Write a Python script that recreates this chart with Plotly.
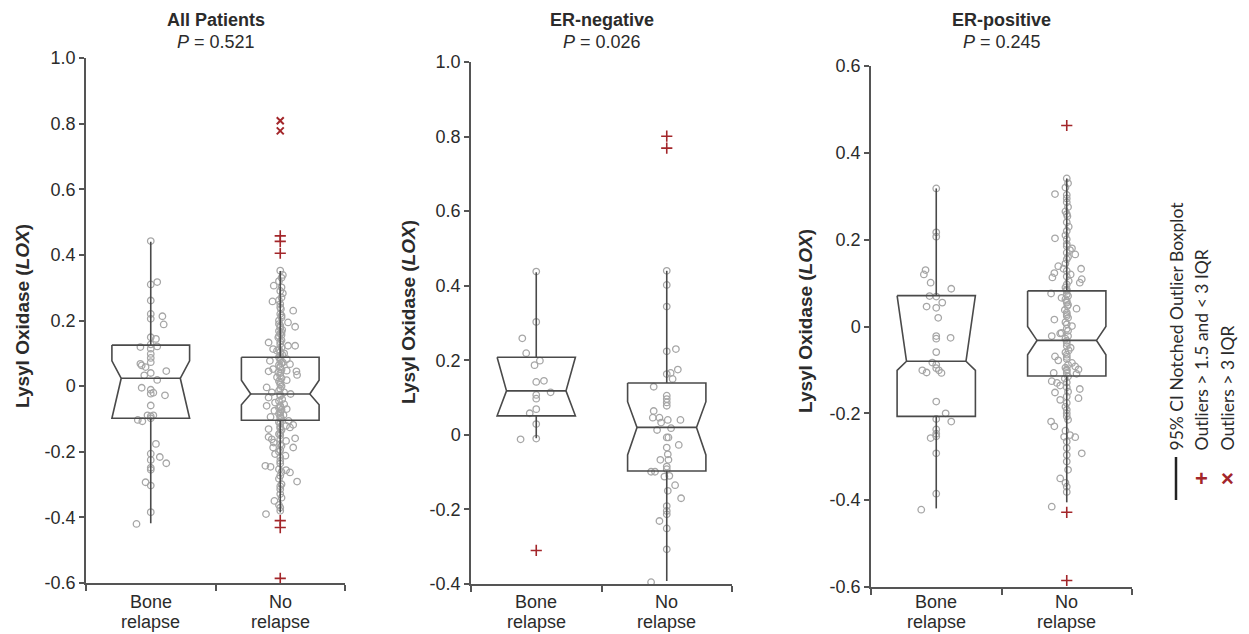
import plotly.graph_objects as go

# target picture size and the page's default body margin (the figure div is offset by it)
W, H = 1249, 634
OFF = 8
FW, FH = W - OFF, H - OFF

# ---------------- data ----------------
categories = ["Bone relapse", "No relapse"]
panel_titles = ["All Patients", "ER-negative", "ER-positive"]
p_values = ["0.521", "0.026", "0.245"]

yticks_p1 = [-0.6, -0.4, -0.2, 0, 0.2, 0.4, 0.6, 0.8, 1.0]
ytext_p1 = ["-0.6", "-0.4", "-0.2", "0", "0.2", "0.4", "0.6", "0.8", "1.0"]
yticks_p2 = [-0.4, -0.2, 0, 0.2, 0.4, 0.6, 0.8, 1.0]
ytext_p2 = ["-0.4", "-0.2", "0", "0.2", "0.4", "0.6", "0.8", "1.0"]
yticks_p3 = [-0.6, -0.4, -0.2, 0, 0.2, 0.4, 0.6]
ytext_p3 = ["-0.6", "-0.4", "-0.2", "0", "0.2", "0.4", "0.6"]
yrange_p1 = [-0.6, 1.0]
yrange_p2 = [-0.4, 1.0]
yrange_p3 = [-0.6, 0.6]

# box statistics per panel: [bone relapse, no relapse]
q1_p1, med_p1, q3_p1 = [-0.098, -0.104], [0.024, -0.024], [0.125, 0.088]
nlo_p1, nhi_p1 = [-0.098, -0.057], [0.077, 0.018]
wlo_p1, whi_p1 = [-0.418, -0.385], [0.440, 0.351]

q1_p2, med_p2, q3_p2 = [0.051, -0.097], [0.118, 0.020], [0.208, 0.139]
nlo_p2, nhi_p2 = [0.051, -0.054], [0.208, 0.089]
wlo_p2, whi_p2 = [-0.009, -0.392], [0.436, 0.440]

q1_p3, med_p3, q3_p3 = [-0.207, -0.114], [-0.080, -0.032], [0.071, 0.082]
nlo_p3, nhi_p3 = [-0.101, -0.065], [0.071, 0.000]
wlo_p3, whi_p3 = [-0.419, -0.405], [0.318, 0.341]

# outliers (group index, value)
mild_grp_p1 = [1, 1, 1, 1, 1, 1]
mild_val_p1 = [0.458, 0.441, 0.405, -0.410, -0.431, -0.586]
ext_grp_p1 = [1, 1]
ext_val_p1 = [0.809, 0.778]
mild_grp_p2 = [1, 1, 0]
mild_val_p2 = [0.801, 0.769, -0.310]
ext_grp_p2, ext_val_p2 = [], []
mild_grp_p3 = [1, 1, 1]
mild_val_p3 = [0.463, -0.428, -0.585]
ext_grp_p3, ext_val_p3 = [], []

# individual samples: values and horizontal jitter (category units)
bone_p1_y = [0.442, 0.310, 0.317, 0.261, 0.220, 0.213, 0.205, 0.188, 0.149, 0.144,
             0.127, 0.119, 0.121, 0.114, 0.098, 0.086, 0.073, 0.068, 0.063, 0.058,
             0.040, 0.046, 0.033, 0.019, -0.005, -0.011, -0.023, -0.020, -0.028, -0.059,
             -0.089, -0.092, -0.089, -0.098, -0.103, -0.107, -0.176, -0.206, -0.216, -0.225,
             -0.235, -0.249, -0.255, -0.293, -0.303, -0.384, -0.420]
bone_p1_dx = [0, 0, 0.05, 0, 0, 0.09, 0, 0.10, 0, 0.04,
              0, -0.08, 0.05, 0, 0, 0, 0, -0.08, -0.07, -0.04,
              0, 0.12, -0.05, 0.05, -0.07, 0, 0, 0.02, 0.11, 0,
              -0.025, 0, 0.02, 0, -0.10, -0.065, 0.04, 0, 0.07, 0,
              0.12, 0, 0, -0.04, 0, 0, -0.11]

no_p1_y = [0.352, 0.339, 0.306, 0.301, 0.283, 0.258, 0.250, 0.230, 0.235, 0.220,
           0.209, 0.194, 0.189, 0.181, 0.179, 0.164, 0.153, 0.133, 0.140, 0.128,
           0.123, 0.123, 0.113, 0.108, 0.100, 0.092, 0.077, 0.079, 0.082, 0.072,
           0.067, 0.052, 0.045, 0.057, 0.045, 0.034, 0.047, 0.039, 0.027, 0.018,
           0.011, -0.004, -0.009, -0.024, -0.019, -0.019, -0.030, -0.035, -0.050, -0.055,
           -0.060, -0.060, -0.067, -0.070, -0.075, -0.080, -0.088, -0.094, -0.096, -0.106,
           -0.114, -0.118, -0.121, -0.126, -0.128, -0.131, -0.141, -0.155, -0.162, -0.172,
           -0.159, -0.162, -0.167, -0.177, -0.187, -0.187, -0.195, -0.207, -0.212, -0.217,
           -0.228, -0.243, -0.246, -0.253, -0.256, -0.263, -0.273, -0.291, -0.299, -0.314,
           -0.329, -0.350, -0.370, -0.380, -0.390,
           0.330, 0.320, 0.290, 0.270, 0.262, 0.240, 0.215, 0.200, 0.185, 0.172,
           0.168, 0.160, 0.156, 0.148, 0.136, 0.118, 0.112, 0.104, 0.096, 0.088,
           0.084, 0.070, 0.064, 0.060, 0.050, 0.042, 0.032, 0.024, 0.015, 0.005,
           0.000, -0.014, -0.026, -0.040, -0.045, -0.064, -0.072, -0.084, -0.090, -0.100,
           -0.110, -0.124, -0.134, -0.146, -0.150, -0.182, -0.200, -0.236, -0.262, -0.282,
           -0.305, -0.340, -0.362]
no_p1_dx = [0, 0.02, -0.05, 0.01, 0.02, -0.06, 0, 0.10, 0.005, 0,
            0.01, 0.06, -0.01, 0.115, 0, 0.01, -0.01, -0.09, 0.01, 0,
            0.06, 0.115, -0.055, -0.025, 0.03, 0, -0.08, 0, 0.05, 0.02,
            0.075, -0.055, -0.09, 0, 0.125, 0.13, 0.05, 0, -0.025, 0.05,
            0, -0.105, 0, 0.08, 0.03, -0.065, 0, -0.09, -0.04, 0.03,
            0, -0.105, -0.01, 0.05, -0.045, 0, 0.025, -0.075, 0, 0.065,
            0, 0.10, 0.045, 0.075, 0, -0.09, 0, -0.09, -0.065, -0.05,
            0.115, 0, 0.045, 0, -0.055, 0.10, 0, -0.04, 0.04, 0,
            0, -0.115, -0.075, -0.01, 0.045, 0.075, 0, 0.13, 0.01, 0,
            0, -0.045, 0, 0, -0.11,
            0.01, -0.01, 0, 0.01, -0.01, 0, 0.01, -0.01, 0, 0.015,
            -0.01, 0, 0.01, -0.015, 0, 0.01, -0.01, 0, 0.015, -0.01,
            0, 0.01, -0.01, 0, 0.01, -0.015, 0, 0.01, -0.01, 0,
            0.01, -0.01, 0, 0.015, -0.01, 0, 0.01, -0.01, 0, 0.01,
            -0.01, 0, 0.01, -0.01, 0, 0.01, -0.01, 0, 0.01, -0.01,
            0, 0.01, -0.01]

bone_p2_y = [0.438, 0.303, 0.259, 0.219, 0.187, 0.199, 0.142, 0.145, 0.114, 0.107,
             0.097, 0.069, 0.058, 0.029, -0.012, -0.010]
bone_p2_dx = [0, 0, -0.107, -0.077, -0.013, 0.028, 0, 0.059, 0.11, 0,
              0, 0, -0.05, 0, -0.12, 0]

no_p2_y = [0.440, 0.402, 0.344, 0.224, 0.230, 0.163, 0.166, 0.150, 0.175, 0.129,
           0.105, 0.096, 0.087, 0.078, 0.064, 0.046, 0.046, 0.033, 0.040, 0.040,
           0.013, 0.018, -0.007, -0.007, -0.027, -0.034, -0.052, -0.067, -0.067, -0.085,
           -0.092, -0.099, -0.099, -0.112, -0.110, -0.135, -0.150, -0.170, -0.191, -0.204,
           -0.213, -0.231, -0.251, -0.307, -0.395]
no_p2_dx = [0, 0, 0, 0, 0.07, 0, 0.03, 0.045, 0.085, -0.10,
            0, 0, 0, 0, -0.10, -0.107, -0.056, -0.043, 0.008, 0.105,
            -0.074, 0.033, 0, 0.013, 0.092, 0, 0.008, -0.049, 0.013, 0,
            0, -0.12, -0.09, -0.018, 0.02, 0.064, 0.008, 0.11, 0, 0,
            0, -0.056, 0, 0, -0.12]

bone_p3_y = [0.318, 0.217, 0.207, 0.130, 0.120, 0.101, 0.087, 0.070, 0.069, 0.055,
             0.046, 0.043, 0.020, -0.022, -0.028, -0.026, -0.059, -0.083, -0.088, -0.096,
             -0.101, -0.107, -0.101, -0.106, -0.173, -0.200, -0.219, -0.213, -0.237, -0.247,
             -0.253, -0.257, -0.292, -0.385, -0.422]
bone_p3_dx = [0, 0, 0, -0.082, -0.095, -0.043, 0.115, -0.051, 0, 0.046,
              -0.074, 0, 0.015, 0, 0, 0.11, 0, -0.03, 0, 0,
              0.02, 0.04, -0.107, -0.074, 0, 0.072, 0.115, 0, 0, 0,
              0, -0.043, 0, 0, -0.115]

no_p3_y = [0.341, 0.305, 0.303, 0.286, 0.259, 0.254, 0.220, 0.203, 0.201, 0.190,
           0.180, 0.166, 0.170, 0.176, 0.155, 0.139, 0.133, 0.133, 0.128, 0.120,
           0.123, 0.113, 0.109, 0.101, 0.097, 0.082, 0.074, 0.076, 0.066, 0.059,
           0.047, 0.041, 0.032, 0.024, 0.016, 0.005, 0.001, -0.015, -0.016, -0.022,
           -0.022, -0.038, -0.045, -0.049, -0.069, -0.078, -0.065, -0.075, -0.084, -0.092,
           -0.099, -0.109, -0.099, -0.107, -0.107, -0.126, -0.130, -0.136, -0.129, -0.144,
           -0.152, -0.165, -0.169, -0.161, -0.176, -0.192, -0.207, -0.219, -0.230, -0.254,
           -0.250, -0.255, -0.265, -0.292, -0.296, -0.311, -0.350, -0.369, -0.381, -0.415,
           0.330, 0.320, 0.295, 0.275, 0.265, 0.240, 0.230, 0.210, 0.185, 0.160,
           0.145, 0.115, 0.105, 0.090, 0.085, 0.070, 0.063, 0.055, 0.050, 0.038,
           0.028, 0.020, 0.010, -0.005, -0.010, -0.028, -0.033, -0.055, -0.060, -0.070,
           -0.088, -0.095, -0.102, -0.115, -0.120, -0.140, -0.150, -0.185, -0.200, -0.215,
           -0.240, -0.280, -0.330, -0.360]
no_p3_dx = [0, -0.09, 0, 0, 0, 0.005, 0, -0.09, 0, 0,
            0.04, 0.065, 0, 0.025, 0, -0.065, -0.025, 0.11, 0, 0.03,
            -0.095, -0.11, 0.115, 0.10, 0, 0, 0, -0.12, -0.04, 0,
            0.005, 0.075, 0, 0, -0.095, 0, 0.04, -0.04, -0.05, -0.115,
            0.01, 0, 0, 0.03, -0.09, -0.065, 0, 0, 0.04, 0.065,
            0.09, 0.075, 0, 0, -0.10, -0.115, -0.075, -0.05, 0, 0.10,
            -0.09, 0.09, -0.05, 0, 0, 0, 0, -0.12, -0.095, -0.02,
            0.025, 0.065, 0, 0.115, 0, 0, -0.05, 0, 0, -0.115,
            0.01, -0.01, 0, 0.01, -0.01, 0, 0.015, -0.01, 0, 0.01,
            -0.01, 0, 0.015, -0.01, 0, 0.01, -0.01, 0, 0.01, -0.015,
            0, 0.01, -0.01, 0, 0.01, -0.01, 0, 0.015, -0.01, 0,
            0.01, -0.01, 0, 0.01, -0.015, 0, 0.01, -0.01, 0, 0.01,
            -0.01, 0, 0.01, -0.01]

legend_labels = ["95% CI Notched Outlier Boxplot", "Outliers > 1.5 and < 3 IQR", "Outliers > 3 IQR"]

# ---------------- styling ----------------
AXC = "#555555"
BOXC = "#4a4a4a"
PTC = "#a6a6a6"
RED = "#a3262a"
TXT = "#2b2b2b"
FONT = "Liberation Sans, Arial, sans-serif"
HALF = 0.30      # half box width (category units)
INDENT = 0.24    # notch indentation as a fraction of half width


def px(x):
    return (x - OFF) / FW


def py(y):
    return 1 - (y - OFF) / FH


panels = [
    dict(xd=(86, 345), yd=(583, 58), yr=yrange_p1, yt=yticks_p1, ytt=ytext_p1,
         stats=(q1_p1, med_p1, q3_p1, nlo_p1, nhi_p1, wlo_p1, whi_p1),
         pts=((bone_p1_y, bone_p1_dx), (no_p1_y, no_p1_dx)),
         mild=(mild_grp_p1, mild_val_p1), ext=(ext_grp_p1, ext_val_p1), ylab=(23, 316)),
    dict(xd=(471, 732), yd=(584, 62), yr=yrange_p2, yt=yticks_p2, ytt=ytext_p2,
         stats=(q1_p2, med_p2, q3_p2, nlo_p2, nhi_p2, wlo_p2, whi_p2),
         pts=((bone_p2_y, bone_p2_dx), (no_p2_y, no_p2_dx)),
         mild=(mild_grp_p2, mild_val_p2), ext=(ext_grp_p2, ext_val_p2), ylab=(408, 312)),
    dict(xd=(871, 1132), yd=(587, 66), yr=yrange_p3, yt=yticks_p3, ytt=ytext_p3,
         stats=(q1_p3, med_p3, q3_p3, nlo_p3, nhi_p3, wlo_p3, whi_p3),
         pts=((bone_p3_y, bone_p3_dx), (no_p3_y, no_p3_dx)),
         mild=(mild_grp_p3, mild_val_p3), ext=(ext_grp_p3, ext_val_p3), ylab=(805, 321)),
]

fig = go.Figure()
annotations = []
layout = {}


def ann(text, x, y, size, family=FONT, color=TXT, angle=0, xref="paper", xa="center", ya="middle"):
    annotations.append(dict(text=text, x=x, y=y, xref=xref, yref="paper", showarrow=False,
                            textangle=angle, xanchor=xa, yanchor=ya,
                            font=dict(family=family, size=size, color=color)))


for i, P in enumerate(panels):
    sfx = "" if i == 0 else str(i + 1)
    xa, ya = "x" + sfx, "y" + sfx
    q1, med, q3, nlo, nhi, wlo, whi = P["stats"]

    # jittered samples
    for g, (ys, dxs) in enumerate(P["pts"]):
        fig.add_trace(go.Scatter(
            x=[g + d for d in dxs], y=ys, xaxis=xa, yaxis=ya, mode="markers",
            marker=dict(symbol="circle-open", size=6.5, color=PTC, line=dict(width=1.3)),
            hoverinfo="y", showlegend=False))

    # notched boxes, medians, whiskers
    bx, by = [], []
    lx, ly = [], []
    for g in range(len(categories)):
        L, R = g - HALF, g + HALF
        d = HALF * INDENT
        bx += [L, R, R, R - d, R, R, L, L, L + d, L, L, None]
        by += [q3[g], q3[g], nhi[g], med[g], nlo[g], q1[g], q1[g], nlo[g], med[g], nhi[g], q3[g], None]
        lx += [L + d, R - d, None, g, g, None, g, g, None]
        ly += [med[g], med[g], None, q3[g], whi[g], None, q1[g], wlo[g], None]
    fig.add_trace(go.Scatter(x=bx, y=by, xaxis=xa, yaxis=ya, mode="lines",
                             line=dict(color=BOXC, width=1.6), hoverinfo="skip", showlegend=False))
    fig.add_trace(go.Scatter(x=lx, y=ly, xaxis=xa, yaxis=ya, mode="lines",
                             line=dict(color=BOXC, width=1.6), hoverinfo="skip", showlegend=False))

    # outliers
    mg, mv = P["mild"]
    if mv:
        fig.add_trace(go.Scatter(x=mg, y=mv, xaxis=xa, yaxis=ya, mode="markers",
                                 marker=dict(symbol="cross-thin", size=8, color=RED,
                                             line=dict(width=1.6, color=RED)),
                                 showlegend=False))
    eg, ev = P["ext"]
    if ev:
        fig.add_trace(go.Scatter(x=eg, y=ev, xaxis=xa, yaxis=ya, mode="markers",
                                 marker=dict(symbol="x-thin", size=7, color=RED,
                                             line=dict(width=2, color=RED)),
                                 showlegend=False))

    x0, x1 = P["xd"]
    yb, yt = P["yd"]
    layout["xaxis" + sfx] = dict(
        domain=[px(x0), px(x1)], anchor=ya, range=[-0.5, 1.5], automargin=False,
        tickmode="array", tickvals=[0, 1], ticktext=["", ""], ticks="",
        showline=True, linecolor=AXC, linewidth=1.5, showgrid=False, zeroline=False,
        minor=dict(tickmode="array", tickvals=[-0.5, 0.5, 1.5], ticks="outside",
                   ticklen=6, tickwidth=1.5, tickcolor=AXC, showgrid=False),
        fixedrange=True)
    layout["yaxis" + sfx] = dict(
        domain=[py(yb), py(yt)], anchor=xa, range=P["yr"], automargin=False,
        tickmode="array", tickvals=P["yt"], ticktext=P["ytt"], ticks="outside",
        ticklen=5, tickwidth=1.5, tickcolor=AXC,
        tickfont=dict(family=FONT, size=18, color=TXT),
        showline=True, linecolor=AXC, linewidth=1.5, showgrid=False, zeroline=False,
        fixedrange=True)

    # category labels (two lines each)
    for g, cat in enumerate(categories):
        first, second = cat.split(" ", 1)
        ann(first, g, py(602), 18, xref=xa)
        ann(second, g, py(622), 18, xref=xa)

    cx = px((x0 + x1) / 2)
    ann("<b>" + panel_titles[i] + "</b>", cx, py(20), 18)
    ann("<i>P</i> = " + p_values[i], cx, py(42), 18)
    lxp, lyp = P["ylab"]
    ann("<b>Lysyl Oxidase (<i>LOX</i>)</b>", px(lxp), py(lyp), 19, angle=-90)

# legend (rotated, at right)
LEGF = "Lato, Open Sans, sans-serif"
leg_x = [1176, 1201, 1227]
for k, lab in enumerate(legend_labels):
    ann(lab, px(leg_x[k]), py(453), 17.5, family=LEGF, angle=-90, ya="bottom")
ann("<b>+</b>", px(1201), py(478), 22, color=RED)
ann("<b>×</b>", px(1227), py(478), 22, color=RED)

fig.update_layout(
    width=FW, height=FH, margin=dict(l=0, r=0, t=0, b=0, autoexpand=False),
    paper_bgcolor="white", plot_bgcolor="white", showlegend=False,
    annotations=annotations,
    shapes=[dict(type="line", xref="paper", yref="paper", x0=px(1176), x1=px(1176),
                 y0=py(457), y1=py(500), line=dict(color="#222222", width=2.5))],
    **layout)

fig.write_html("out.html")
